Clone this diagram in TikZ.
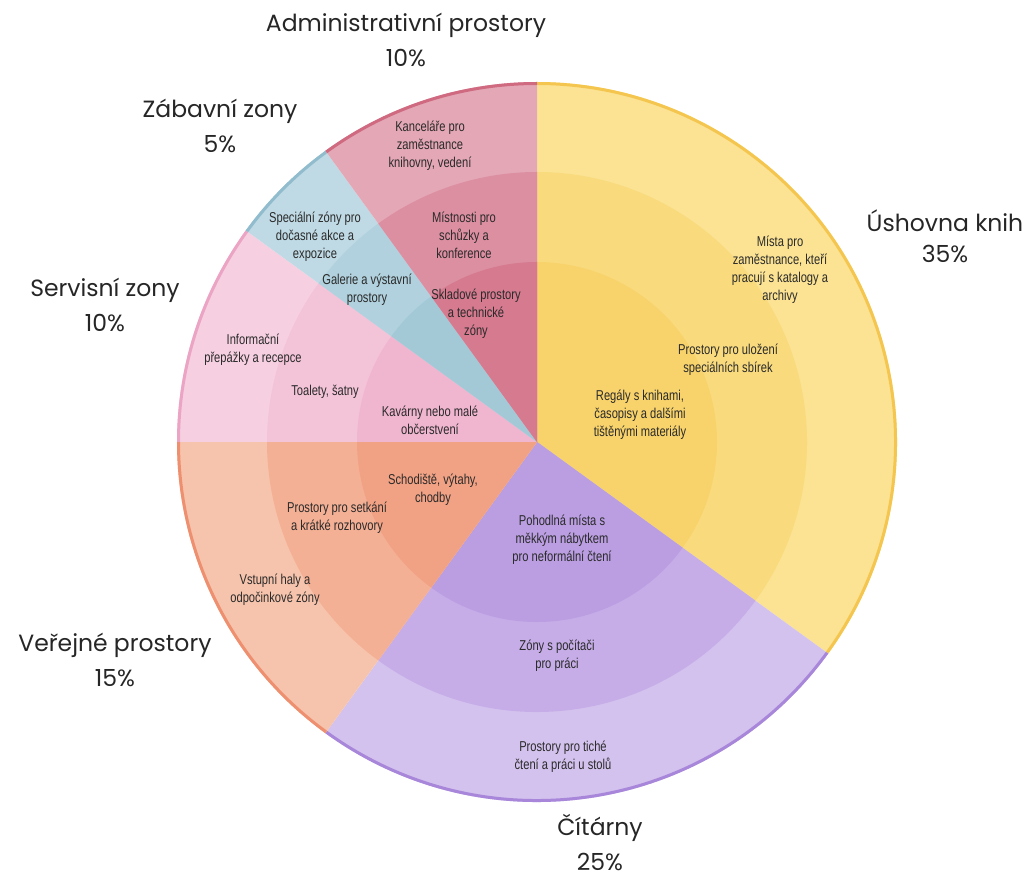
\documentclass[tikz,border=0pt]{standalone}
\usepackage{fontspec}
\setmainfont{Poppins}
\newfontfamily\condfont[FakeStretch=0.78]{Liberation Sans}
\usepackage{tikz}
\usetikzlibrary{calc}

\definecolor{ylwA}{HTML}{FBE393}
\definecolor{ylwB}{HTML}{F9DB7E}
\definecolor{ylwC}{HTML}{F8D36C}
\definecolor{ylwD}{HTML}{F4C64F}
\definecolor{prpA}{HTML}{D3C2ED}
\definecolor{prpB}{HTML}{C6ADE8}
\definecolor{prpC}{HTML}{BA9EE1}
\definecolor{prpD}{HTML}{A887DA}
\definecolor{orgA}{HTML}{F6C4AC}
\definecolor{orgB}{HTML}{F4B095}
\definecolor{orgC}{HTML}{F2A284}
\definecolor{orgD}{HTML}{EE9070}
\definecolor{pnkA}{HTML}{F6D0E1}
\definecolor{pnkB}{HTML}{F3C3D8}
\definecolor{pnkC}{HTML}{F0B6CF}
\definecolor{pnkD}{HTML}{ECA4C4}
\definecolor{bluA}{HTML}{BFDAE4}
\definecolor{bluB}{HTML}{B0D1DD}
\definecolor{bluC}{HTML}{A3C9D7}
\definecolor{bluD}{HTML}{90BCCD}
\definecolor{rosA}{HTML}{E4A7B6}
\definecolor{rosB}{HTML}{DC8FA1}
\definecolor{rosC}{HTML}{D57A8F}
\definecolor{rosD}{HTML}{CF6A81}
\definecolor{txtgray}{HTML}{2A2A2A}

\begin{document}
\begin{tikzpicture}[x=1pt,y=1pt,
	group/.style={align=center,anchor=base,inner sep=0pt,text=black!85,font=\fontsize{23.5}{35}\selectfont},
	zone/.style={align=center,text=txtgray,inner sep=1pt,font=\condfont\fontsize{14.3}{18}\selectfont},
	rim/.style={line width=3pt}]
	\useasboundingbox (0,0) rectangle (1029,-877);
	\coordinate (O) at (537,-442);

	% Úshovna knih 35%
	\fill[ylwA] (O) -- ++(-36:360pt) arc[start angle=-36,end angle=90,radius=360pt] -- cycle;
	\fill[ylwB] (O) -- ++(-36:270pt) arc[start angle=-36,end angle=90,radius=270pt] -- cycle;
	\fill[ylwC] (O) -- ++(-36:180pt) arc[start angle=-36,end angle=90,radius=180pt] -- cycle;
	\draw[rim,ylwD] ($(O)+(-36:358.5pt)$) arc[start angle=-36,end angle=90,radius=358.5pt];
	% Čítárny 25%
	\fill[prpA] (O) -- ++(-126:360pt) arc[start angle=-126,end angle=-36,radius=360pt] -- cycle;
	\fill[prpB] (O) -- ++(-126:270pt) arc[start angle=-126,end angle=-36,radius=270pt] -- cycle;
	\fill[prpC] (O) -- ++(-126:180pt) arc[start angle=-126,end angle=-36,radius=180pt] -- cycle;
	\draw[rim,prpD] ($(O)+(-126:358.5pt)$) arc[start angle=-126,end angle=-36,radius=358.5pt];
	% Veřejné prostory 15%
	\fill[orgA] (O) -- ++(180:360pt) arc[start angle=180,end angle=234,radius=360pt] -- cycle;
	\fill[orgB] (O) -- ++(180:270pt) arc[start angle=180,end angle=234,radius=270pt] -- cycle;
	\fill[orgC] (O) -- ++(180:180pt) arc[start angle=180,end angle=234,radius=180pt] -- cycle;
	\draw[rim,orgD] ($(O)+(180:358.5pt)$) arc[start angle=180,end angle=234,radius=358.5pt];
	% Servisní zony 10%
	\fill[pnkA] (O) -- ++(144:360pt) arc[start angle=144,end angle=180,radius=360pt] -- cycle;
	\fill[pnkB] (O) -- ++(144:270pt) arc[start angle=144,end angle=180,radius=270pt] -- cycle;
	\fill[pnkC] (O) -- ++(144:180pt) arc[start angle=144,end angle=180,radius=180pt] -- cycle;
	\draw[rim,pnkD] ($(O)+(144:358.5pt)$) arc[start angle=144,end angle=180,radius=358.5pt];
	% Zábavní zony 5%
	\fill[bluA] (O) -- ++(126:360pt) arc[start angle=126,end angle=144,radius=360pt] -- cycle;
	\fill[bluB] (O) -- ++(126:270pt) arc[start angle=126,end angle=144,radius=270pt] -- cycle;
	\fill[bluC] (O) -- ++(126:180pt) arc[start angle=126,end angle=144,radius=180pt] -- cycle;
	\draw[rim,bluD] ($(O)+(126:358.5pt)$) arc[start angle=126,end angle=144,radius=358.5pt];
	% Administrativní prostory 10%
	\fill[rosA] (O) -- ++(90:360pt) arc[start angle=90,end angle=126,radius=360pt] -- cycle;
	\fill[rosB] (O) -- ++(90:270pt) arc[start angle=90,end angle=126,radius=270pt] -- cycle;
	\fill[rosC] (O) -- ++(90:180pt) arc[start angle=90,end angle=126,radius=180pt] -- cycle;
	\draw[rim,rosD] ($(O)+(90:358.5pt)$) arc[start angle=90,end angle=126,radius=358.5pt];

	\node[group] (adm) at (406,-67)  {Administrativní prostory\\10\%};
	\node[group] (zab) at (220,-153) {Zábavní zony\\5\%};
	\node[group] (ser) at (105,-332) {Servisní zony\\10\%};
	\node[group,font=\fontsize{23.5}{31}\selectfont] (usch) at (945,-263) {Úshovna knih\\35\%};
	\node[group] (ver) at (115,-686) {Veřejné prostory\\15\%};
	\node[group] (cit) at (600,-870) {Čítárny\\25\%};

	\node[zone] (kanc)  at (430,-146) {Kanceláře pro\\zaměstnance\\knihovny, vedení};
	\node[zone] (mistn) at (464,-235) {Místnosti pro\\schůzky a\\konference};
	\node[zone] (sklad) at (476,-314) {Skladové prostory\\a technické\\zóny};
	\node[zone] (spec)  at (315,-237) {Speciální zóny pro\\dočasné akce a\\expozice};
	\node[zone] (gal)   at (367,-290) {Galerie a výstavní\\prostory};
	\node[zone] (info)  at (253,-350) {Informační\\přepážky a recepce};
	\node[zone] (toal)  at (325,-392) {Toalety, šatny};
	\node[zone] (kav)   at (430,-420) {Kavárny nebo malé\\občerstvení};
	\node[zone] (mista) at (780,-270) {Místa pro\\zaměstnance, kteří\\pracují s katalogy a\\archivy};
	\node[zone] (ulo)   at (728,-360) {Prostory pro uložení\\speciálních sbírek};
	\node[zone] (reg)   at (640,-415) {Regály s knihami,\\časopisy a dalšími\\tištěnými materiály};
	\node[zone] (scho)  at (433,-490) {Schodiště, výtahy,\\chodby};
	\node[zone] (setk)  at (337,-518) {Prostory pro setkání\\a krátké rozhovory};
	\node[zone] (vstup) at (275,-590) {Vstupní haly a\\odpočinkové zóny};
	\node[zone] (poh)   at (562,-540) {Pohodlná místa s\\měkkým nábytkem\\pro neformální čtení};
	\node[zone] (pocit) at (557,-656) {Zóny s počítači\\pro práci};
	\node[zone] (tich)  at (563,-757) {Prostory pro tiché\\čtení a práci u stolů};
\end{tikzpicture}
\end{document}
